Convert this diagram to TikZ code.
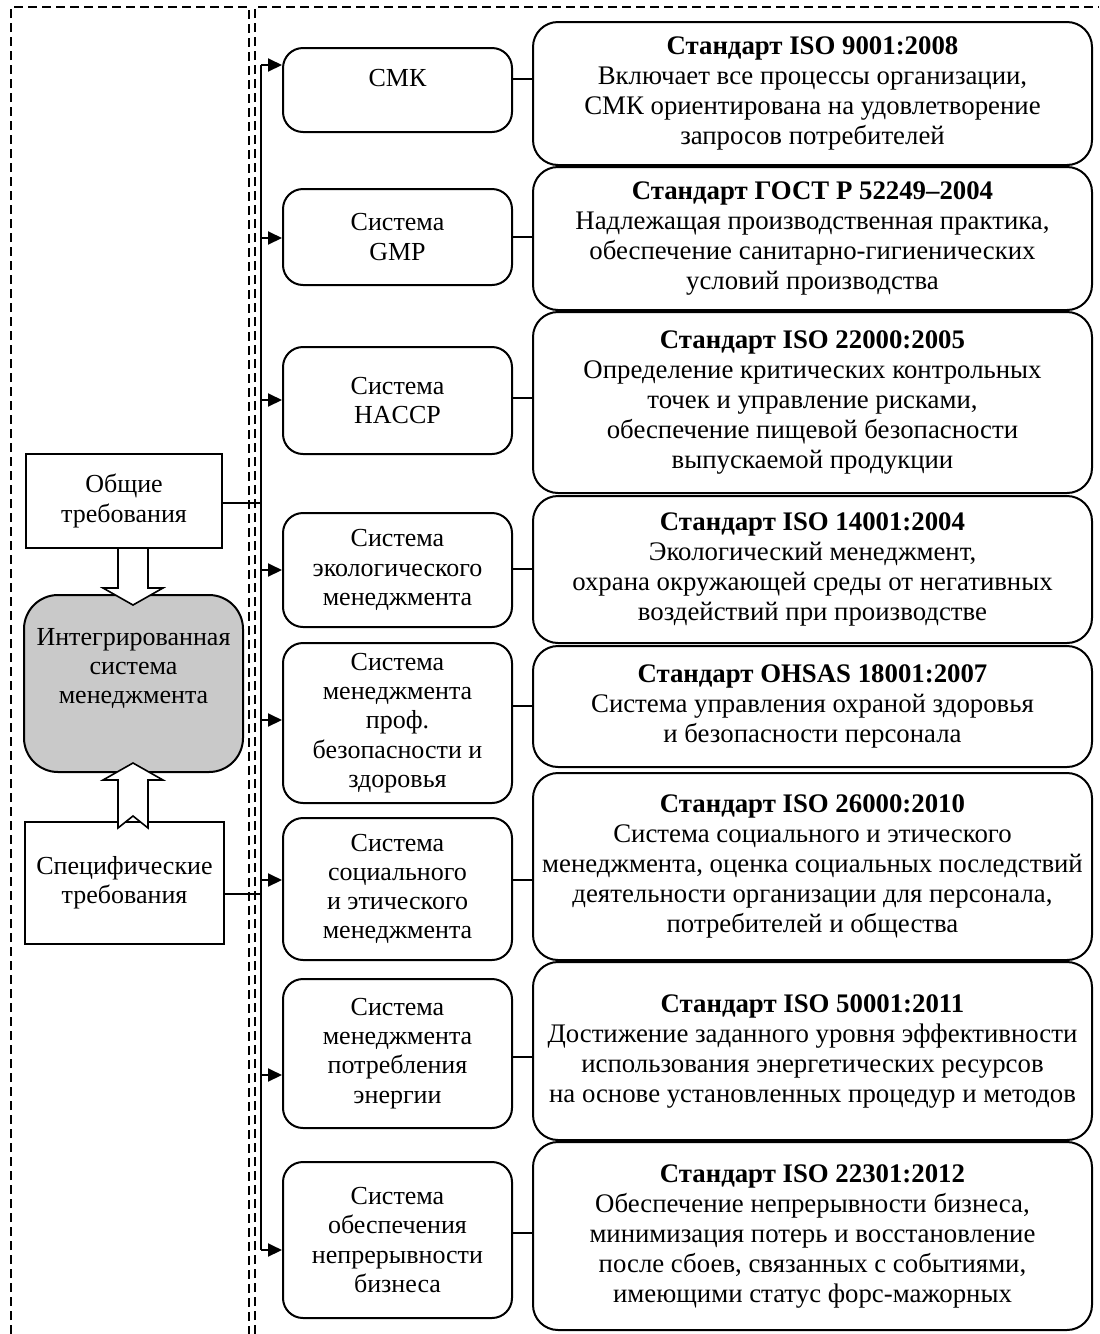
\documentclass[tikz,border=0pt]{standalone}
\usepackage{fontspec}
\setmainfont{Liberation Serif}
\usetikzlibrary{arrows.meta,calc}
\begin{document}
\begin{tikzpicture}[x=0.5pt,y=-0.5pt, line width=1pt,
  txt/.style={font=\fontsize{13}{14.6}\selectfont, align=center, inner sep=0pt},
  mid/.style={txt, draw, rounded corners=10pt, minimum width=114.5pt},
  std/.style={txt, font=\fontsize{13.4}{15}\selectfont, draw, rounded corners=12.5pt, minimum width=279.5pt},
  req/.style={txt, draw},
  dsh/.style={line width=0.75pt, dash pattern=on 4.5pt off 2.5pt},
  arr/.style={-{Triangle[length=7pt,width=6.5pt]}},
  fat/.style={draw, fill=white, line width=0.8pt}]
\useasboundingbox (0,0) rectangle (1099,1334);
% dashed frames
\draw[dsh] (11,1334) -- (11,7) -- (249,7) -- (249,1334);
\draw[dsh] (255,1334) -- (255,7) -- (1099,7);
% left column
\node[req, minimum width=98pt, minimum height=47pt] (g) at (124,501) {Общие\\требования};
\node[txt, draw, fill=black!21, rounded corners=17pt, minimum width=109.5pt, minimum height=88.5pt] (ism) at (133.5,683.5) {Интегрированная\\система\\менеджмента\\[3pt]};
\node[req, minimum width=99.5pt, minimum height=61pt] (s) at (124.5,883) {Специфические\\требования};
% block arrows
\draw[fat] (118,548) -- (118,588) -- (103,588) -- (133,605) -- (163,588) -- (148,588) -- (148,548) -- cycle;
\draw[fat] (133,763) -- (163,780) -- (148,780) -- (148,828) -- (133,816) -- (118,828) -- (118,780) -- (103,780) -- cycle;
% middle column
\node[mid, minimum height=42pt] (m1) at (397.5,90) {};
\node[txt] (m1t) at (397.5,78) {СМК};
\node[mid, minimum height=48pt] (m2) at (397.5,237) {Система\\GMP};
\node[mid, minimum height=53.5pt] (m3) at (397.5,400.5) {Система\\HACCP};
\node[mid, minimum height=57pt] (m4) at (397.5,570) {Система\\экологического\\менеджмента};
\node[mid, minimum height=80pt] (m5) at (397.5,723) {Система\\менеджмента\\проф.\\безопасности и\\здоровья};
\node[mid, minimum height=71pt] (m6) at (397.5,889) {Система\\социального\\и этического\\менеджмента};
\node[mid, minimum height=74.5pt] (m7) at (397.5,1053.5) {Система\\менеджмента\\потребления\\энергии};
\node[mid, minimum height=78pt] (m8) at (397.5,1240) {Система\\обеспечения\\непрерывности\\бизнеса};
% right column
\node[std, minimum height=71.5pt] (r1) at (812.5,93.5) {\textbf{Стандарт ISO 9001:2008}\\Включает все процессы организации,\\СМК ориентирована на удовлетворение\\запросов потребителей};
\node[std, minimum height=71.5pt] (r2) at (812.5,238.5) {\textbf{Стандарт ГОСТ Р 52249–2004}\\Надлежащая производственная практика,\\обеспечение санитарно-гигиенических\\условий производства};
\node[std, minimum height=90.5pt] (r3) at (812.5,402.5) {\textbf{Стандарт ISO 22000:2005}\\Определение критических контрольных\\точек и управление рисками,\\обеспечение пищевой безопасности\\выпускаемой продукции};
\node[std, minimum height=73.5pt] (r4) at (812.5,569.5) {\textbf{Стандарт ISO 14001:2004}\\Экологический менеджмент,\\охрана окружающей среды от негативных\\воздействий при производстве};
\node[std, minimum height=60.5pt] (r5) at (812.5,706.5) {\textbf{Стандарт OHSAS 18001:2007}\\Система управления охраной здоровья\\и безопасности персонала};
\node[std, minimum height=93.5pt] (r6) at (812.5,866.5) {\textbf{Стандарт ISO 26000:2010}\\Система социального и этического\\менеджмента, оценка социальных последствий\\деятельности организации для персонала,\\потребителей и общества};
\node[std, minimum height=89pt] (r7) at (812.5,1051) {\textbf{Стандарт ISO 50001:2011}\\Достижение заданного уровня эффективности\\использования энергетических ресурсов\\на основе установленных процедур и методов};
\node[std, minimum height=94pt] (r8) at (812.5,1236) {\textbf{Стандарт ISO 22301:2012}\\Обеспечение непрерывности бизнеса,\\минимизация потерь и восстановление\\после сбоев, связанных с событиями,\\имеющими статус форс-мажорных};
% bus
\coordinate (a1) at (261,65);
\coordinate (a2) at (261,238);
\coordinate (a3) at (261,400);
\coordinate (a4) at (261,570);
\coordinate (a5) at (261,720);
\coordinate (a6) at (261,880);
\coordinate (a7) at (261,1075);
\coordinate (a8) at (261,1250);
\draw (a1) -- (a8);
\foreach \i in {1,...,8} {\draw[arr] (a\i) -- (a\i -| m\i.west);}
% requirement connectors
\coordinate (gc) at (222,503);
\coordinate (sc) at (224,894);
\draw (gc) -- (gc -| a1);
\draw (sc) -- (sc -| a1);
% middle to right connectors
\coordinate (c1) at (0,79);
\coordinate (c2) at (0,237);
\coordinate (c3) at (0,398);
\coordinate (c4) at (0,569);
\coordinate (c5) at (0,706);
\coordinate (c6) at (0,880);
\coordinate (c7) at (0,1057);
\coordinate (c8) at (0,1233);
\foreach \i in {1,...,8} {\draw (m\i.east |- c\i) -- (r\i.west |- c\i);}
\end{tikzpicture}
\end{document}
